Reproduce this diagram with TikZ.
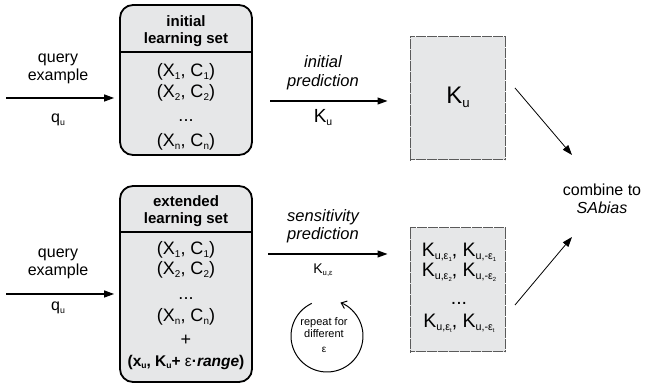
\documentclass[tikz,border=0pt]{standalone}
\usepackage{fontspec}
\setmainfont{Liberation Sans}
\usetikzlibrary{arrows.meta}
\definecolor{boxgray}{RGB}{230,231,232}
\definecolor{dotgray}{RGB}{90,90,90}
% small lowered index in the text font
\newcommand\lowsub[1]{\raisebox{-0.3ex}{\scalebox{0.55}{#1}}}
\newcommand\fs[2]{\fontsize{#1}{#2}\selectfont}
\begin{document}
\begin{tikzpicture}[x=1pt,y=1pt,
  setbox/.style={draw, line width=1.8pt, rounded corners=13pt, fill=boxgray,
    minimum width=132pt, inner sep=0pt},
  resbox/.style={draw=dotgray, fill=boxgray, line width=1pt,
    dash pattern=on 0.6pt off 0.5pt, minimum width=95pt, inner sep=0pt},
  flow/.style={-{Triangle[length=10pt,width=7pt]}, line width=1.2pt},
  thin flow/.style={-{Triangle[length=10pt,width=7pt]}, line width=0.8pt},
  lbl/.style={align=center, inner sep=0pt, font=\fs{16}{18}},
  hdr/.style={align=center, inner sep=0pt, font=\fs{15}{17}\bfseries},
  entry/.style={inner sep=0pt, font=\fs{18}{20}},
  kent/.style={inner sep=0pt, font=\fs{19.5}{21}}
]
\path[use as bounding box] (0,0) rectangle (646,387);

% learning sets
\node[setbox, minimum height=150pt] (iset) at (186,307) {};
\draw[line width=1.2pt] (iset.west |- 0,335) -- (iset.east |- 0,335);
\node[hdr] (ihdr) at (186,355.5) {initial\\learning set};
\node[entry] (i1) at (186,315) {(X\lowsub{1}, C\lowsub{1})};
\node[entry] (i2) at (186,294) {(X\lowsub{2}, C\lowsub{2})};
\node[entry, anchor=base] (i3) at (186,265) {...};
\node[entry] (i4) at (186,245) {(X\lowsub{n}, C\lowsub{n})};

\node[setbox, minimum height=196pt] (eset) at (186,103) {};
\draw[line width=1.2pt] (eset.west |- 0,155) -- (eset.east |- 0,155);
\node[hdr] (ehdr) at (186,176) {extended\\learning set};
\node[entry] (e1) at (186,137) {(X\lowsub{1}, C\lowsub{1})};
\node[entry] (e2) at (186,117) {(X\lowsub{2}, C\lowsub{2})};
\node[entry, anchor=base] (e3) at (186,87) {...};
\node[entry] (e4) at (186,70) {(X\lowsub{n}, C\lowsub{n})};
\node[entry] (e5) at (186,47) {+};
\node[inner sep=0pt, font=\fs{15.5}{17}] (e6) at (186,25)
  {\textbf{(x\lowsub{u}, K\lowsub{u}+ }ε\textbf{·\textit{range})}};

% query inputs
\node[lbl] (q1) at (58,318) {query\\example};
\node[lbl] (q1u) at (58,267) {q\lowsub{u}};
\coordinate (q1s) at (6,289);
\draw[flow, shorten >=5pt] (q1s) -- (iset.west |- q1s);

\node[lbl] (q2) at (58,123) {query\\example};
\node[lbl] (q2u) at (58,79) {q\lowsub{u}};
\coordinate (q2s) at (6,93);
\draw[flow, shorten >=5pt] (q2s) -- (eset.west |- q2s);

% prediction results
\node[resbox, minimum height=123pt] (r1) at (457.5,288.5) {};
\node[inner sep=0pt, font=\fs{24}{26}] (r1k) at (458,290) {K\lowsub{u}};

\node[resbox, minimum height=124pt] (r2) at (457.5,97) {};
\node[kent] (r2a) at (459,135) {K\lowsub{u,ε\lowsub{1}}, K\lowsub{u,-ε\lowsub{1}}};
\node[kent] (r2b) at (459,115) {K\lowsub{u,ε\lowsub{2}}, K\lowsub{u,-ε\lowsub{2}}};
\node[kent, anchor=base] (r2c) at (459,82) {...};
\node[kent] (r2d) at (459,64) {K\lowsub{u,ε\lowsub{t}}, K\lowsub{u,-ε\lowsub{t}}};

% prediction arrows
\coordinate (p1s) at (270,286);
\draw[flow, shorten >=22pt] (p1s) -- (r1.west |- p1s);
\node[lbl, font=\fs{16.5}{19}\itshape] (p1) at (323,314.5) {initial\\prediction};
\node[inner sep=0pt, font=\fs{19}{20}] (p1k) at (323,269) {K\lowsub{u}};

\coordinate (p2s) at (268,133);
\draw[flow, shorten >=22pt] (p2s) -- (r2.west |- p2s);
\node[lbl, font=\fs{16.5}{18}\itshape] (p2) at (323,161) {sensitivity\\prediction};
\node[inner sep=0pt, font=\fs{14}{16}] (p2k) at (323,117) {K\lowsub{u,ε}};

% repetition loop
\coordinate (loop) at (327,51);
\draw[line width=1pt, -{Straight Barb[length=5pt,width=8pt]}]
  ([shift={(115:36)}]loop) arc[start angle=115, end angle=428, radius=36];
\node[align=center, inner sep=0pt, font=\fs{11}{11.5}] (rep) at (324,59.5) {repeat for\\different};
\node[inner sep=0pt, font=\fs{10}{11}] (repe) at (324,37) {ε};

% combination
\node[lbl] (comb) at (602,188) {combine to\\\textit{SAbias}};
\coordinate (c1s) at (515,299);
\coordinate (c1e) at (572,232);
\draw[thin flow] (c1s) -- (c1e);
\coordinate (c2s) at (515,82);
\coordinate (c2e) at (572,150);
\draw[thin flow] (c2s) -- (c2e);
\end{tikzpicture}
\end{document}
